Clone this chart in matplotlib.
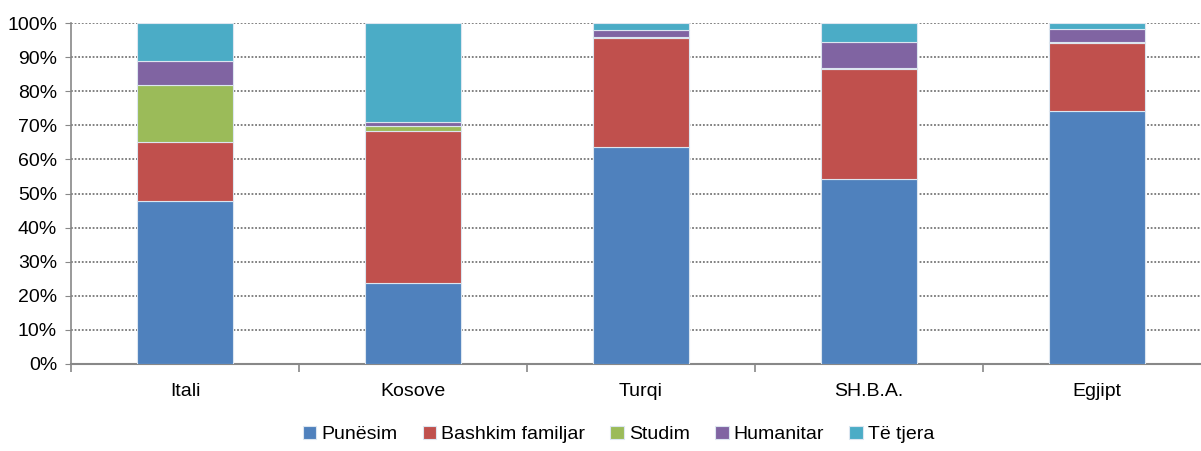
import matplotlib.pyplot as plt
import numpy as np

# shares by reason of emigration, per country (%)
vendet = ["Itali", "Kosove", "Turqi", "SH.B.A.", "Egjipt"]
punesim = [47.8, 23.7, 63.6, 54.2, 74.2]
bashkim = [17.2, 44.6, 31.9, 32.4, 20.0]
studim = [16.7, 1.5, 0.5, 0.2, 0.3]
humanitar = [7.1, 1.1, 2.0, 7.6, 3.7]
te_tjera = [11.2, 29.1, 2.0, 5.6, 1.8]

seri = ["Punësim", "Bashkim familjar", "Studim", "Humanitar", "Të tjera"]
ngjyrat = ["#4F81BD", "#C0504D", "#9BBB59", "#8064A2", "#4BACC6"]

plt.rcParams["font.family"] = ["Liberation Sans Narrow", "Liberation Sans", "DejaVu Sans"]

fig = plt.figure(figsize=(12.01, 4.51), dpi=100)
ax = fig.add_axes([71 / 1201, 87 / 451, 1140 / 1201, 341 / 451])

x = np.arange(len(vendet))
bottom = np.zeros(len(vendet))
for name, vals, col in zip(seri, [punesim, bashkim, studim, humanitar, te_tjera], ngjyrat):
    ax.bar(x, vals, width=0.42, bottom=bottom, color=col, label=name,
           edgecolor="#dce6f0", linewidth=0.8, zorder=3)
    bottom += np.array(vals)

ax.set_xlim(-0.5, 4.5)
ax.set_ylim(0, 100)
ax.set_yticks(range(0, 101, 10))
ax.set_yticklabels([f"{v}%" for v in range(0, 101, 10)], fontsize=14)
ax.set_xticks(x)
ax.set_xticklabels(vendet, fontsize=14)
ax.set_xticks(np.arange(-0.5, 5, 1), minor=True)
ax.tick_params(axis="x", which="major", length=0, pad=14)
ax.tick_params(axis="x", which="minor", length=6, color="#888888", width=1.2)
ax.tick_params(axis="y", length=4, color="#888888", pad=6)

ax.grid(axis="y", linestyle=(0, (1, 1)), color="#777777", linewidth=1.3, zorder=0)
for s in ["top", "right"]:
    ax.spines[s].set_visible(False)
ax.spines["left"].set_linestyle((0, (1, 1)))
ax.spines["left"].set_color("#888888")
ax.spines["left"].set_linewidth(1.2)
ax.spines["bottom"].set_color("#888888")
ax.spines["bottom"].set_linewidth(1.5)

fig.legend(loc="lower center", bbox_to_anchor=(0.515, -0.022), ncol=5, frameon=False,
           fontsize=14, handlelength=0.7, handleheight=0.7, handletextpad=0.25,
           columnspacing=1.3)

fig.savefig("out.png", dpi=100)
